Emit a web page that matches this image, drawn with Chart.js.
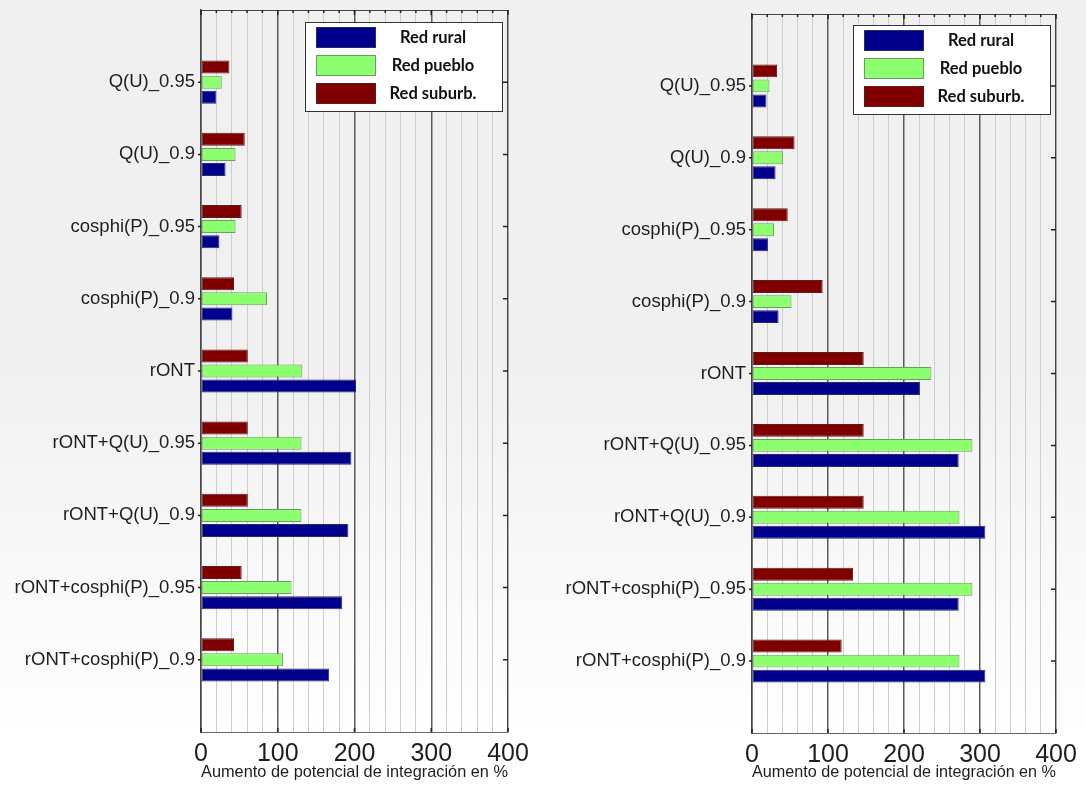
<!DOCTYPE html>
<html><head><meta charset="utf-8">
<script src="https://cdn.jsdelivr.net/npm/chart.js@4"></script>
<style>
html,body{margin:0;padding:0;}
body{width:1086px;height:790px;overflow:hidden;position:relative;
  background:linear-gradient(to bottom,#f0f0f0 0px,#f0f0f0 360px,#ffffff 740px);}
canvas{position:absolute;top:0;}
#c1{left:0;}
#c2{left:543px;}
</style></head><body>
<canvas id="c1" width="543" height="790"></canvas>
<canvas id="c2" width="543" height="790"></canvas>
<script>
// ---- data ----
const categories = ['Q(U)_0.95','Q(U)_0.9','cosphi(P)_0.95','cosphi(P)_0.9','rONT',
  'rONT+Q(U)_0.95','rONT+Q(U)_0.9','rONT+cosphi(P)_0.95','rONT+cosphi(P)_0.9'];
const seriesNames = ['Red rural','Red pueblo','Red suburb.'];

const leftRural  = [20, 32, 24, 41, 202, 196, 192, 184, 167];
const leftPueblo = [27, 45, 45, 86, 132, 131, 131, 118, 107];
const leftSuburb = [37, 57, 53, 43, 61, 61, 61, 53, 43];

const rightRural  = [19, 31, 21, 35, 221, 272, 307, 272, 307];
const rightPueblo = [23, 41, 29, 52, 236, 290, 273, 290, 273];
const rightSuburb = [33, 56, 47, 93, 147, 147, 147, 133, 118];

const xTickLabels = ['0','100','200','300','400'];
const xAxisTitle = 'Aumento de potencial de integración en %';

// ---- styles ----
const FONT = "Arial, 'Liberation Sans', sans-serif";
const ruralFill = '#00008c', ruralBorder = '#2a2a6e';
const puebloFill = '#8cff6e', puebloBorder = '#6f9a63';
const suburbFill = '#800000', suburbBorder = '#5a1e1e';

function pad(a){ return [null].concat(a, [null]); }

const framePlugin = {
  id: 'frame',
  afterDatasetsDraw(chart) {
    const {ctx, chartArea: a, scales: {x, y}} = chart;
    ctx.save();
    ctx.strokeStyle = '#444';
    ctx.lineWidth = 1;
    ctx.beginPath();
    ctx.moveTo(a.left, a.top + 0.5); ctx.lineTo(a.right, a.top + 0.5);
    ctx.moveTo(a.right - 0.5, a.top); ctx.lineTo(a.right - 0.5, a.bottom);
    ctx.stroke();
    ctx.strokeStyle = '#222';
    ctx.lineWidth = 1.5;
    ctx.beginPath();
    for (let v = 0; v <= 400; v += 20) {
      const px = x.getPixelForValue(v);
      const major = v % 100 === 0;
      ctx.moveTo(px, a.top); ctx.lineTo(px, a.top + (major ? 5 : 3));
      if (major) { ctx.moveTo(px, a.bottom); ctx.lineTo(px, a.bottom - 4); }
    }
    for (let i = 1; i <= categories.length; i++) {
      const py = y.getPixelForValue(i);
      ctx.moveTo(a.right, py); ctx.lineTo(a.right - 5, py);
      ctx.moveTo(a.left - 3, py); ctx.lineTo(a.left, py);
    }
    ctx.stroke();
    ctx.restore();
  }
};

const boxLegendPlugin = {
  id: 'boxLegend',
  afterDraw(chart, args, opts) {
    const {ctx, chartArea: a} = chart;
    const w = 197, h = 89;
    const bx = a.right - opts.dx - w, by = a.top + opts.dy;
    ctx.save();
    ctx.fillStyle = '#ffffff';
    ctx.fillRect(bx, by, w, h);
    ctx.strokeStyle = '#333';
    ctx.lineWidth = 1;
    ctx.strokeRect(bx + 0.5, by + 0.5, w, h);
    const ds = chart.data.datasets.slice().reverse();
    ctx.font = 'bold 16.5px Lato';
    ctx.textAlign = 'center';
    ctx.textBaseline = 'middle';
    ds.forEach((d, i) => {
      const ry = by + 5 + 28 * i;
      ctx.fillStyle = d.backgroundColor;
      ctx.fillRect(bx + 11, ry, 60, 21);
      ctx.strokeStyle = d.borderColor;
      ctx.strokeRect(bx + 11.5, ry + 0.5, 59, 20);
      ctx.fillStyle = '#111';
      ctx.fillText(d.label, bx + 128, ry + 11);
    });
    ctx.restore();
  }
};

function makeChart(id, rural, pueblo, suburb, L) {
  return new Chart(document.getElementById(id), {
    type: 'bar',
    data: {
      labels: [''].concat(categories, ['']),
      datasets: [
        {label: seriesNames[2], data: pad(suburb), backgroundColor: suburbFill, borderColor: suburbBorder},
        {label: seriesNames[1], data: pad(pueblo), backgroundColor: puebloFill, borderColor: puebloBorder},
        {label: seriesNames[0], data: pad(rural), backgroundColor: ruralFill, borderColor: ruralBorder}
      ]
    },
    plugins: [framePlugin, boxLegendPlugin],
    options: {
      responsive: false,
      animation: false,
      indexAxis: 'y',
      layout: {padding: {top: L.top, right: L.right, left: 0, bottom: 0}},
      datasets: {bar: {categoryPercentage: 0.627, barPercentage: 0.86, borderWidth: 1, borderSkipped: false}},
      plugins: {
        legend: {display: false},
        tooltip: {enabled: false},
        boxLegend: {dx: 6, dy: L.legendDy}
      },
      scales: {
        x: {
          type: 'linear', min: 0, max: 400, position: 'bottom',
          ticks: {
            stepSize: 20, autoSkip: false, maxRotation: 0, padding: 7, color: '#1e1e1e',
            font: {family: FONT, size: 25},
            callback: v => (v % 100 === 0 ? xTickLabels[v / 100] : '')
          },
          grid: {
            drawTicks: false,
            color: c => (c.tick && c.tick.value % 100 === 0 ? '#5a5a5a' : '#cdcdcd'),
            lineWidth: c => (c.tick && c.tick.value % 100 === 0 ? 1.5 : 1)
          },
          border: {display: true, color: '#666', width: 1},
          title: {display: true, text: xAxisTitle, color: '#1e1e1e',
            font: {family: FONT, size: 17}, padding: {top: 0, bottom: 7}},
          afterFit: s => { s.height = L.xh; }
        },
        y: {
          type: 'category', offset: false,
          grid: {display: false, drawTicks: false},
          border: {display: true, color: '#444', width: 1.5},
          ticks: {autoSkip: false, padding: 6, color: '#1e1e1e',
            font: {family: FONT, size: 18.5}},
          afterFit: s => { s.width = L.yw; s.paddingTop = 0; s.paddingBottom = 0; }
        }
      }
    }
  });
}

makeChart('c1', leftRural, leftPueblo, leftSuburb, {top: 10, right: 35, xh: 58, yw: 201, legendDy: 12});
makeChart('c2', rightRural, rightPueblo, rightSuburb, {top: 14, right: 30, xh: 57, yw: 209, legendDy: 11});
</script>
</body></html>
